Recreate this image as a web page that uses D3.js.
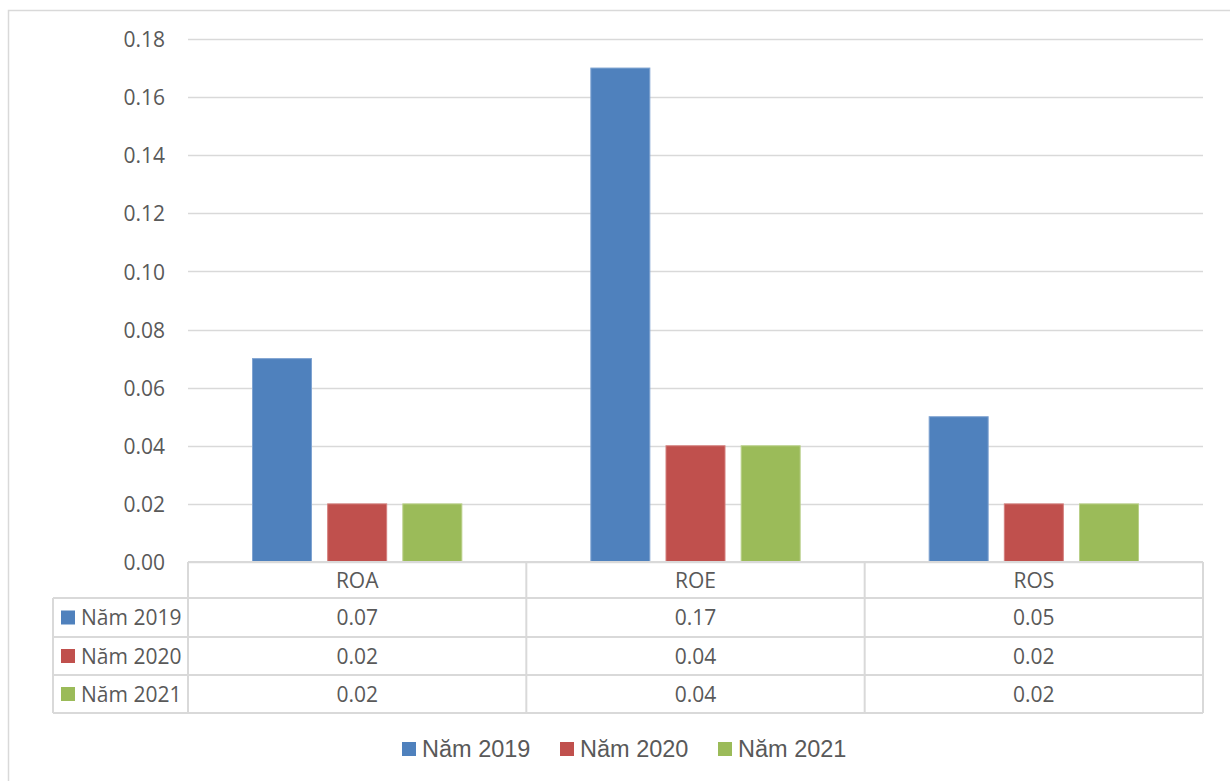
<!DOCTYPE html>
<html>
<head>
<meta charset="utf-8">
<script src="https://cdn.jsdelivr.net/npm/d3@7/dist/d3.min.js"></script>
<style>
  html, body { margin: 0; padding: 0; background: #fff; }
  svg { display: block; }
</style>
</head>
<body>
<svg id="chart" width="1230" height="781"></svg>
<script>
const categories = ["ROA", "ROE", "ROS"];
const seriesNames = ["Năm 2019", "Năm 2020", "Năm 2021"];
const values2019 = [0.07, 0.17, 0.05];
const values2020 = [0.02, 0.04, 0.02];
const values2021 = [0.02, 0.04, 0.02];
const tickValues = [0, 0.02, 0.04, 0.06, 0.08, 0.10, 0.12, 0.14, 0.16, 0.18];
const colors = ["#4F81BD", "#C0504D", "#9BBB59"];
const strokes = ["#7FA3D1", "#D47F7D", "#B9D089"];

(function () {
const series = [values2019, values2020, values2021];

const svg = d3.select("#chart");
const W = 1230, H = 781;
const pLeft = 188, pRight = 1203, pTop = 39, pBottom = 562;
const textColor = "#595959";
const gridColor = "#D9D9D9";
const axisFont = "'Open Sans', sans-serif";
const legendFont = "'Liberation Sans', Arial, sans-serif";

// outer border (chart area frame)
svg.append("rect")
  .attr("x", 8.5).attr("y", 10.5)
  .attr("width", W).attr("height", H)
  .attr("fill", "none").attr("stroke", gridColor).attr("stroke-width", 1.5);

const y = d3.scaleLinear().domain([0, 0.18]).range([pBottom, pTop]);
const x0 = d3.scaleBand().domain(categories).range([pLeft, pRight]).paddingInner(0).paddingOuter(0);
const x1 = d3.scaleBand().domain(seriesNames).range([64.5, x0.bandwidth() - 64.5]).paddingInner(0.215).paddingOuter(0);

// gridlines
svg.append("g")
  .selectAll("line").data(tickValues).join("line")
  .attr("x1", pLeft).attr("x2", pRight)
  .attr("y1", d => Math.round(y(d)) + 0.5).attr("y2", d => Math.round(y(d)) + 0.5)
  .attr("stroke", gridColor).attr("stroke-width", 1.5);

// y axis labels
const yAxis = d3.axisLeft(y).tickValues(tickValues).tickFormat(d3.format(".2f")).tickSize(0).tickPadding(0);
const yg = svg.append("g").attr("transform", `translate(165,0)`).call(yAxis);
yg.select(".domain").remove();
yg.selectAll("text")
  .attr("fill", textColor).style("font-family", axisFont).style("font-size", "21px")
  .attr("dy", "0.36em");

// bars
const groups = svg.append("g").selectAll("g").data(categories).join("g")
  .attr("transform", d => `translate(${x0(d)},0)`);
groups.selectAll("rect")
  .data((c, ci) => series.map((s, si) => ({ si, v: s[ci] })))
  .join("rect")
  .attr("x", d => x1(seriesNames[d.si]))
  .attr("width", x1.bandwidth())
  .attr("y", d => y(d.v))
  .attr("height", d => y(0) - y(d.v))
  .attr("fill", d => colors[d.si])
  .attr("stroke", d => strokes[d.si])
  .attr("stroke-width", 1);

// data table
const rowY = [562, 598, 637, 675, 713];
const tableLeft = 53;
const tg = svg.append("g");
const line = (ax, ay, bx, by) => tg.append("line")
  .attr("x1", ax).attr("y1", ay).attr("x2", bx).attr("y2", by)
  .attr("stroke", gridColor).attr("stroke-width", 2);
line(pLeft, rowY[0], pRight, rowY[0]);
for (let i = 1; i < rowY.length; i++) line(tableLeft, rowY[i], pRight, rowY[i]);
line(tableLeft, rowY[1], tableLeft, rowY[4]);
const vx = [pLeft, ...categories.map(c => x0(c) + x0.bandwidth())];
vx.forEach(v => line(v, rowY[0], v, rowY[4]));

// header labels
tg.selectAll("text.hdr").data(categories).join("text")
  .attr("class", "hdr")
  .attr("x", d => x0(d) + x0.bandwidth() / 2)
  .attr("y", (rowY[0] + rowY[1]) / 2)
  .attr("dy", "0.36em")
  .attr("text-anchor", "middle")
  .attr("fill", textColor).style("font-family", axisFont).style("font-size", "21px")
  .text(d => d);

// value cells
series.forEach((s, si) => {
  const cy = (rowY[si + 1] + rowY[si + 2]) / 2;
  tg.selectAll(`text.v${si}`).data(s).join("text")
    .attr("class", `v${si}`)
    .attr("x", (d, i) => x0(categories[i]) + x0.bandwidth() / 2)
    .attr("y", cy)
    .attr("dy", "0.36em")
    .attr("text-anchor", "middle")
    .attr("fill", textColor).style("font-family", axisFont).style("font-size", "21px")
    .text(d => d3.format(".2f")(d));
  tg.append("rect")
    .attr("x", 61).attr("y", cy - 7).attr("width", 14).attr("height", 14)
    .attr("fill", colors[si]);
  tg.append("text")
    .attr("x", 81).attr("y", cy).attr("dy", "0.36em")
    .attr("fill", textColor).style("font-family", axisFont).style("font-size", "21px")
    .text(seriesNames[si]);
});

// legend
const legendX = [402, 560, 718];
const lg = svg.append("g");
seriesNames.forEach((n, i) => {
  lg.append("rect").attr("x", legendX[i]).attr("y", 742).attr("width", 14).attr("height", 14)
    .attr("fill", colors[i]);
  lg.append("text").attr("x", legendX[i] + 20).attr("y", 749).attr("dy", "0.36em")
    .attr("fill", textColor).style("font-family", legendFont).style("font-size", "23.5px")
    .text(n);
});
})();
</script>
</body>
</html>
